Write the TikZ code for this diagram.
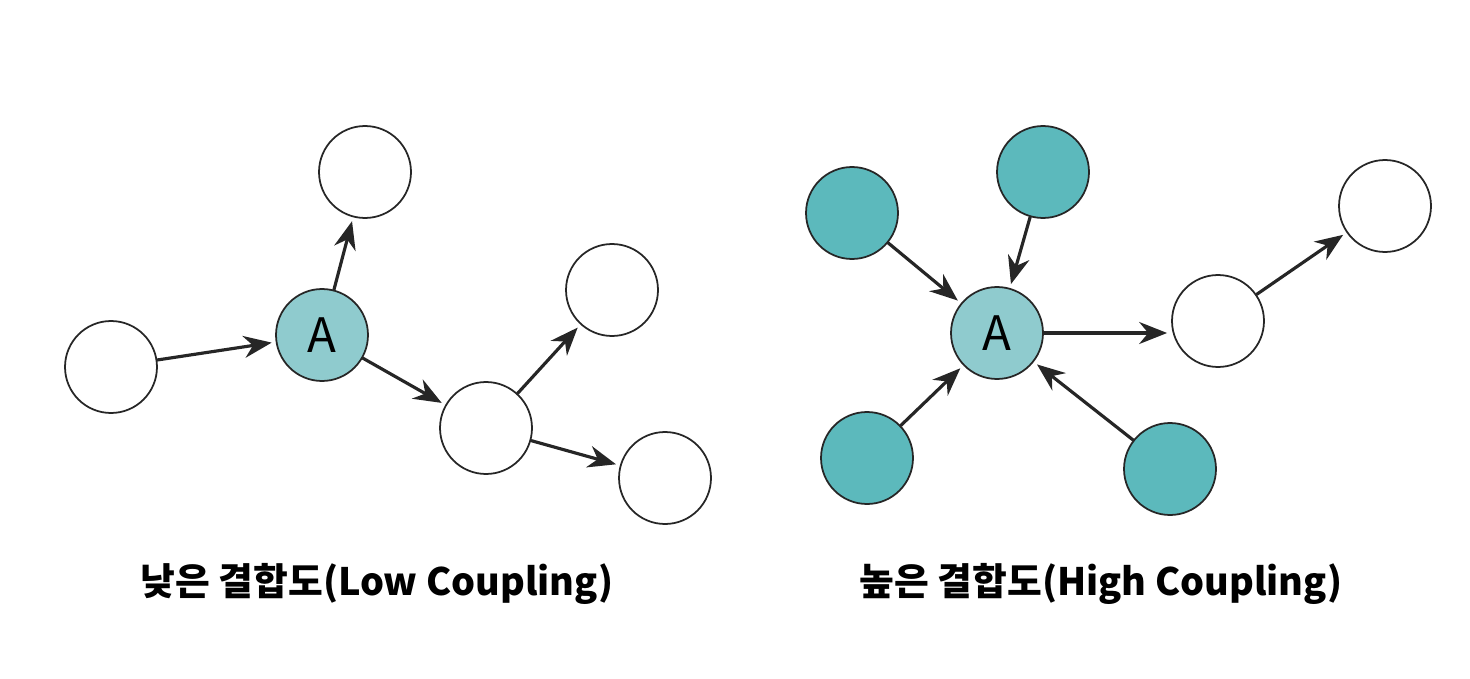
\documentclass[tikz,border=0pt]{standalone}
\usepackage{fontspec}
\newfontfamily\krfont{Noto Sans CJK KR}
\usetikzlibrary{arrows.meta}

\definecolor{centerteal}{HTML}{8FCBCE}
\definecolor{darkteal}{HTML}{5CB9BC}

\begin{document}
\begin{tikzpicture}[
    x=0.02cm, y=-0.02cm,
    line cap=round,
    line join=round,
    module/.style={circle, draw=black!85, line width=1pt, fill=white,
      minimum size=1.84cm, inner sep=0pt, font=\krfont\fontsize{27}{27}\selectfont},
    core/.style={module, fill=centerteal},
    coupled/.style={module, fill=darkteal},
    link/.style={-{Stealth[length=5.6mm, width=4.4mm]}, line width=1.8pt,
      black!85, shorten >=0.8mm},
    caption/.style={font=\krfont\bfseries\fontsize{21.5}{21.5}\selectfont}
  ]

\useasboundingbox (0,0) rectangle (1470,679);

% ============================================================
% LEFT: low coupling
% ============================================================
\begin{scope}
  \node[core]   (lA)  at (322,335) {A};
  \node[module] (lin) at (111,367) {};
  \node[module] (lup) at (365,172) {};
  \node[module] (lmid) at (486,428) {};
  \node[module] (lur) at (612,290) {};
  \node[module] (llr) at (665,478) {};

  \draw[link] (lin) -- (lA);
  \draw[link] (lA) -- (lup);
  \draw[link] (lA) -- (lmid);
  \draw[link] (lmid) -- (lur);
  \draw[link] (lmid) -- (llr);

  \node[caption] (lcap) at (377,584) {낮은 결합도(Low Coupling)};
\end{scope}

% ============================================================
% RIGHT: high coupling
% ============================================================
\begin{scope}
  \node[core]    (rA)  at (997,333) {A};
  \node[coupled] (rtl) at (852,213) {};
  \node[coupled] (rtop) at (1043,172) {};
  \node[coupled] (rbl) at (867,458) {};
  \node[coupled] (rbr) at (1170,469) {};
  \node[module]  (rout) at (1218,321) {};
  \node[module]  (rfar) at (1385,206) {};

  \draw[link] (rtl) -- (rA);
  \draw[link] (rtop) -- (rA);
  \draw[link] (rbl) -- (rA);
  \draw[link] (rbr) -- (rA);
  \draw[link] (rA.east) -- (rA.east -| rout.west);
  \draw[link] (rout) -- (rfar);

  \node[caption] (rcap) at (1101,584) {높은 결합도(High Coupling)};
\end{scope}

\end{tikzpicture}
\end{document}
